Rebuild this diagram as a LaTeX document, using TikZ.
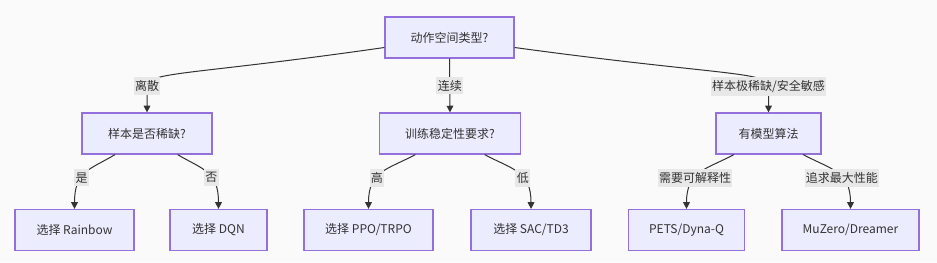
\documentclass[tikz,border=0pt]{standalone}
\usepackage{fontspec}
\setmainfont{Noto Sans CJK SC}
\usetikzlibrary{arrows.meta}
\definecolor{boxfill}{HTML}{ECECFF}
\definecolor{boxline}{HTML}{9370DB}
\definecolor{ink}{HTML}{333333}
\definecolor{lblfill}{HTML}{E8E8E8}
\definecolor{bgfill}{HTML}{FAFAFA}
\begin{document}
\begin{tikzpicture}[x=0.75pt,y=-0.75pt,
  box/.style={draw=boxline,fill=boxfill,line width=0.9pt,text=ink,
    font=\fontsize{9}{11}\selectfont,minimum width=#1,minimum height=30.75pt},
  link/.style={draw=ink,line width=0.75pt,-{Triangle[length=5pt,width=5pt]}},
  lbl/.style={fill=lblfill,text=ink,font=\fontsize{9}{11}\selectfont,
    inner xsep=1pt,inner ysep=2.5pt}]
\fill[bgfill] (0,0) rectangle (937,262);
\useasboundingbox (0,0) rectangle (937,262);
% question nodes
\node[box=96.75pt] (root) at (449.5,37.5) {动作空间类型?};
\node[box=97.5pt] (scarce) at (147,133.5) {样本是否稀缺?};
\node[box=105.75pt] (stable) at (450,133.5) {训练稳定性要求?};
\node[box=78.75pt] (model) at (768.5,133.5) {有模型算法};
% answer nodes
\node[box=89.25pt] (rainbow) at (74.5,230) {选择 Rainbow};
\node[box=72.75pt] (dqn) at (218.5,230) {选择 DQN};
\node[box=96.75pt] (ppo) at (368.5,230) {选择 PPO/TRPO};
\node[box=90pt] (sac) at (531,230) {选择 SAC/TD3};
\node[box=87pt] (pets) at (686.5,230) {PETS/Dyna-Q};
\node[box=102.75pt] (muzero) at (850.5,230) {MuZero/Dreamer};
% first level
\draw[link] ([yshift=-7.5pt]root.west) .. controls +(-195,28) and +(0,-15)
  .. ([yshift=19.5pt]scarce.north) node[lbl] {离散} -- (scarce.north);
\draw[link] (root.south) -- (stable.north) node[lbl,midway] {连续};
\draw[link] ([yshift=-7.5pt]root.east) .. controls +(205,28) and +(0,-15)
  .. ([yshift=19.5pt]model.north) node[lbl] {样本极稀缺/安全敏感} -- (model.north);
% second level
\draw[link] ([xshift=-24pt]scarce.south) .. controls +(-25,15) and +(0,-38) .. (rainbow.north)
  node[lbl,pos=0.6] {是};
\draw[link] ([xshift=23pt]scarce.south) .. controls +(25,15) and +(0,-38) .. (dqn.north)
  node[lbl,pos=0.6] {否};
\draw[link] ([xshift=-26pt]stable.south) .. controls +(-28,15) and +(0,-38) .. (ppo.north)
  node[lbl,pos=0.6] {高};
\draw[link] ([xshift=26pt]stable.south) .. controls +(28,15) and +(0,-38) .. (sac.north)
  node[lbl,pos=0.6] {低};
\draw[link] ([xshift=-26pt]model.south) .. controls +(-28,15) and +(0,-38) .. (pets.north)
  node[lbl,pos=0.6] {需要可解释性};
\draw[link] ([xshift=26pt]model.south) .. controls +(28,15) and +(0,-38) .. (muzero.north)
  node[lbl,pos=0.6] {追求最大性能};
\end{tikzpicture}
\end{document}
